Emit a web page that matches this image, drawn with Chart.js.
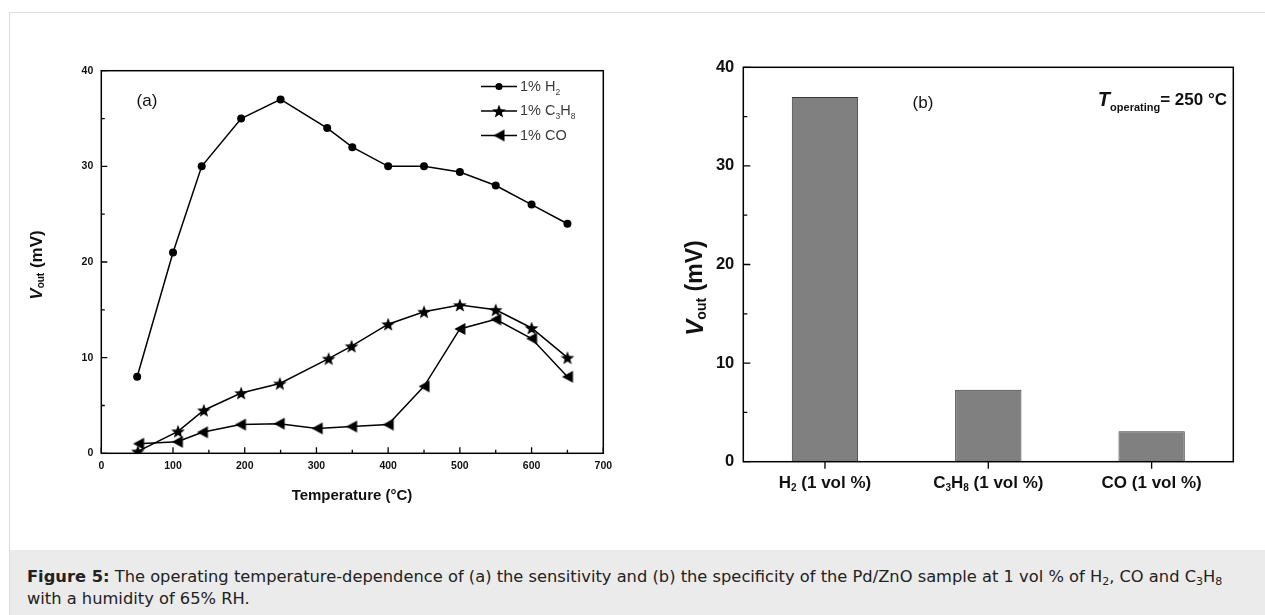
<!DOCTYPE html>
<html>
<head>
<meta charset="utf-8">
<script src="https://cdn.jsdelivr.net/npm/chart.js@4.4.1/dist/chart.umd.min.js"></script>
<style>
  body { margin: 0; width: 1265px; height: 615px; overflow: hidden; position: relative; background: #fff;
         font-family: "Liberation Sans", Arial, sans-serif; }
  #frame { position: absolute; left: 9px; top: 12px; width: 1300px; height: 700px;
           border-left: 1px solid #dcdcdc; border-top: 1px solid #dcdcdc; }
  #capbox { position: absolute; left: 10px; top: 550px; width: 1300px; height: 100px; background: #ebebeb; }
  #cap { position: absolute; left: 27px; top: 566px; width: 1235px; font-family: "DejaVu Sans", sans-serif;
         font-size: 16.3px; line-height: 21.5px; color: #222; white-space: nowrap; }
  #cap sub { font-size: 11px; line-height: 0; vertical-align: -3px; }
  .box { position: absolute; top: 0; height: 540px; }
</style>
</head>
<body>
<div id="frame"></div>
<div id="capbox"></div>
<div class="box" style="left:0;width:640px"><canvas id="chart-a"></canvas></div>
<div class="box" style="left:640px;width:625px"><canvas id="chart-b"></canvas></div>
<div id="cap"><b>Figure 5:</b> The operating temperature-dependence of (a) the sensitivity and (b) the specificity of the Pd/ZnO sample at 1 vol % of H<sub>2</sub>, CO and C<sub>3</sub>H<sub>8</sub><br>with a humidity of 65% RH.</div>

<script>
// ---- data ----
const tempH2   = [50, 100, 140, 195, 250, 315, 350, 400, 450, 500, 550, 600, 650];
const voutH2   = [8, 21, 30, 35, 37, 34, 32, 30, 30, 29.4, 28, 26, 24];
const tempC3H8 = [51, 107, 143, 195, 249, 317, 349, 400, 450, 500, 550, 600, 650];
const voutC3H8 = [0.2, 2.3, 4.5, 6.3, 7.3, 9.9, 11.2, 13.5, 14.8, 15.5, 15.0, 13.1, 10.0];
const tempCO   = [52, 106, 141, 194, 248, 301, 349, 400, 450, 500, 550, 600, 650];
const voutCO   = [1.0, 1.2, 2.2, 3.0, 3.1, 2.6, 2.8, 3.0, 7.0, 13.0, 14.0, 12.0, 8.0];

const gasLabels = ['H2 (1 vol %)', 'C3H8 (1 vol %)', 'CO (1 vol %)'];
const voutAt250 = [37, 7.3, 3.1];

const tempTicks = { min: 0, max: 700, step: 100 };
const voutTicks = { min: 0, max: 40, step: 10 };

const FONT = '"Liberation Sans", Arial, sans-serif';

// filled marker images (Chart.js star is outline only)
function markImage(size, draw) {
  const c = document.createElement('canvas');
  c.width = c.height = size;
  const g = c.getContext('2d');
  g.fillStyle = '#000';
  draw(g, size);
  return c;
}
const starImg = markImage(16, (g, s) => {
  g.beginPath();
  for (let i = 0; i < 10; i++) {
    const r = i % 2 ? 3.0 : 7.2;
    const a = -Math.PI / 2 + i * Math.PI / 5;
    g.lineTo(s / 2 + r * Math.cos(a), s / 2 + 0.8 + r * Math.sin(a));
  }
  g.closePath();
  g.fill();
});
const triImg = markImage(14, (g) => {
  g.beginPath();
  g.moveTo(1.5, 7);
  g.lineTo(12.5, 1);
  g.lineTo(12.5, 13);
  g.closePath();
  g.fill();
});

// text made of pieces (for subscripts / italics)
function rich(ctx, parts, x, y, align) {
  let w = 0;
  parts.forEach(p => { ctx.font = p[1]; w += ctx.measureText(p[0]).width; });
  let cx = align === 'center' ? x - w / 2 : align === 'right' ? x - w : x;
  ctx.textAlign = 'left';
  ctx.textBaseline = 'middle';
  parts.forEach(p => {
    ctx.font = p[1];
    ctx.fillText(p[0], cx, y + (p[2] || 0));
    cx += ctx.measureText(p[0]).width;
  });
}

// frame + inward/outward tick marks
function drawFrame(chart, o) {
  const { ctx, chartArea: a } = chart;
  const xs = chart.scales.x, ys = chart.scales.y;
  ctx.save();
  ctx.strokeStyle = '#000';
  ctx.lineWidth = 1.5;
  ctx.strokeRect(a.left, a.top, a.right - a.left, a.bottom - a.top);
  ctx.lineWidth = 1.3;
  ctx.beginPath();
  ys.ticks.forEach((t, i) => {
    const py = ys.getPixelForValue(t.value);
    ctx.moveTo(a.left, py); ctx.lineTo(a.left + o.major, py);
    if (i < ys.ticks.length - 1) {
      const pm = ys.getPixelForValue(t.value + o.yStep / 2);
      ctx.moveTo(a.left, pm); ctx.lineTo(a.left + o.minor, pm);
    }
  });
  xs.ticks.forEach((t, i) => {
    const px = xs.getPixelForValue(t.value);
    ctx.moveTo(px, a.bottom); ctx.lineTo(px, a.bottom + o.xDir * o.major);
    if (o.xStep && i < xs.ticks.length - 1) {
      const pm = xs.getPixelForValue(t.value + o.xStep / 2);
      ctx.moveTo(pm, a.bottom); ctx.lineTo(pm, a.bottom + o.xDir * o.minor);
    }
  });
  ctx.stroke();
  ctx.restore();
}

const hideGrid = { display: false, drawTicks: false };

// ---- (a) temperature dependence ----
const decorA = {
  id: 'decorA',
  afterDraw(chart) {
    drawFrame(chart, { major: 6, minor: 3.5, xDir: -1, xStep: 100, yStep: 10 });
    const ctx = chart.ctx;
    ctx.save();
    ctx.fillStyle = '#111';
    rich(ctx, [['(a)', '17px ' + FONT]], 147, 101, 'center');
    rich(ctx, [['Temperature (°C)', 'bold 15px ' + FONT]], 352, 496, 'center');
    ctx.translate(37, 265);
    ctx.rotate(-Math.PI / 2);
    rich(ctx, [['V', 'italic bold 17px ' + FONT], ['out', 'bold 10px ' + FONT, 4], [' (mV)', 'bold 17px ' + FONT]], 0, 0, 'center');
    ctx.restore();

    // legend
    const big = '14.5px ' + FONT, sub = '8.5px ' + FONT;
    const rows = [
      { y: 86.5, mark: 'circle', txt: [['1% H', big], ['2', sub, 6]] },
      { y: 111, mark: starImg, txt: [['1% C', big], ['3', sub, 6], ['H', big], ['8', sub, 6]] },
      { y: 135.5, mark: triImg, txt: [['1% CO', big]] }
    ];
    ctx.save();
    rows.forEach(r => {
      ctx.strokeStyle = '#000';
      ctx.lineWidth = 1.5;
      ctx.beginPath();
      ctx.moveTo(481, r.y); ctx.lineTo(517, r.y);
      ctx.stroke();
      ctx.fillStyle = '#000';
      if (r.mark === 'circle') {
        ctx.beginPath(); ctx.arc(499, r.y, 3.6, 0, Math.PI * 2); ctx.fill();
      } else {
        const s = r.mark.width;
        ctx.drawImage(r.mark, 499 - s / 2, r.y - s / 2, s, s);
      }
      ctx.fillStyle = '#3a3a3a';
      rich(ctx, r.txt, 520, r.y, 'left');
    });
    ctx.restore();
  }
};

function series(xs, ys) {
  return xs.map((x, i) => ({ x: x, y: ys[i] }));
}
const lineStyle = { borderColor: '#000', backgroundColor: '#000', borderWidth: 1.5, tension: 0, pointBorderWidth: 0 };

new Chart(document.getElementById('chart-a'), {
  type: 'line',
  data: {
    datasets: [
      Object.assign({ label: '1% H2', data: series(tempH2, voutH2), pointStyle: 'circle', pointRadius: 4 }, lineStyle),
      Object.assign({ label: '1% C3H8', data: series(tempC3H8, voutC3H8), pointStyle: starImg }, lineStyle),
      Object.assign({ label: '1% CO', data: series(tempCO, voutCO), pointStyle: triImg }, lineStyle)
    ]
  },
  options: {
    responsive: true,
    maintainAspectRatio: false,
    animation: false,
    layout: { padding: { left: 0, top: 70.7, right: 36.7, bottom: 0 } },
    plugins: { legend: { display: false }, tooltip: { enabled: false } },
    scales: {
      x: {
        type: 'linear', min: tempTicks.min, max: tempTicks.max,
        grid: hideGrid, border: { display: false },
        ticks: { stepSize: tempTicks.step, padding: 7, color: '#111', font: { family: FONT, size: 10.5, weight: 'bold' } },
        afterFit: (s) => { s.height = 86.7; }
      },
      y: {
        min: voutTicks.min, max: voutTicks.max,
        grid: hideGrid, border: { display: false },
        ticks: { stepSize: voutTicks.step, padding: 8, color: '#111', font: { family: FONT, size: 10.5, weight: 'bold' } },
        afterFit: (s) => { s.width = 101.3; }
      }
    }
  },
  plugins: [decorA]
});

// ---- (b) specificity at 250 C ----
const decorB = {
  id: 'decorB',
  afterDraw(chart) {
    drawFrame(chart, { major: 7, minor: 4, xDir: 1, xStep: 0, yStep: 10 });
    const ctx = chart.ctx;
    const xs = chart.scales.x;
    ctx.save();
    ctx.fillStyle = '#111';
    const big = 'bold 17px ' + FONT, sub = 'bold 10px ' + FONT;
    const names = [
      [['H', big], ['2', sub, 5], [' (1 vol %)', big]],
      [['C', big], ['3', sub, 5], ['H', big], ['8', sub, 5], [' (1 vol %)', big]],
      [['CO (1 vol %)', big]]
    ];
    gasLabels.forEach((g, i) => rich(ctx, names[i], xs.getPixelForValue(i), 483, 'center'));
    rich(ctx, [['(b)', '17px ' + FONT]], 283, 103, 'center');
    rich(ctx, [['T', 'italic bold 20px ' + FONT], ['operating', 'bold 11px ' + FONT, 8], ['= 250 °C', 'bold 17px ' + FONT]], 587, 100, 'right');
    ctx.translate(56, 288);
    ctx.rotate(-Math.PI / 2);
    rich(ctx, [['V', 'italic bold 24px ' + FONT], ['out', 'bold 14px ' + FONT, 6], [' (mV)', 'bold 23px ' + FONT]], 0, 0, 'center');
    ctx.restore();
  }
};

new Chart(document.getElementById('chart-b'), {
  type: 'bar',
  data: {
    labels: gasLabels,
    datasets: [{
      label: 'Vout',
      data: voutAt250,
      backgroundColor: '#808080',
      borderColor: '#3a3a3a',
      borderWidth: 1,
      barPercentage: 0.406,
      categoryPercentage: 1
    }]
  },
  options: {
    responsive: true,
    maintainAspectRatio: false,
    animation: false,
    layout: { padding: { left: 0, top: 67.3, right: 31.7, bottom: 0 } },
    plugins: { legend: { display: false }, tooltip: { enabled: false } },
    scales: {
      x: {
        grid: hideGrid, border: { display: false },
        ticks: { display: false },
        afterFit: (s) => { s.height = 78.3; }
      },
      y: {
        min: voutTicks.min, max: voutTicks.max,
        grid: hideGrid, border: { display: false },
        ticks: { stepSize: voutTicks.step, padding: 9, color: '#111', font: { family: FONT, size: 16.5, weight: 'bold' } },
        afterFit: (s) => { s.width = 103.3; }
      }
    }
  },
  plugins: [decorB]
});
</script>
</body>
</html>
